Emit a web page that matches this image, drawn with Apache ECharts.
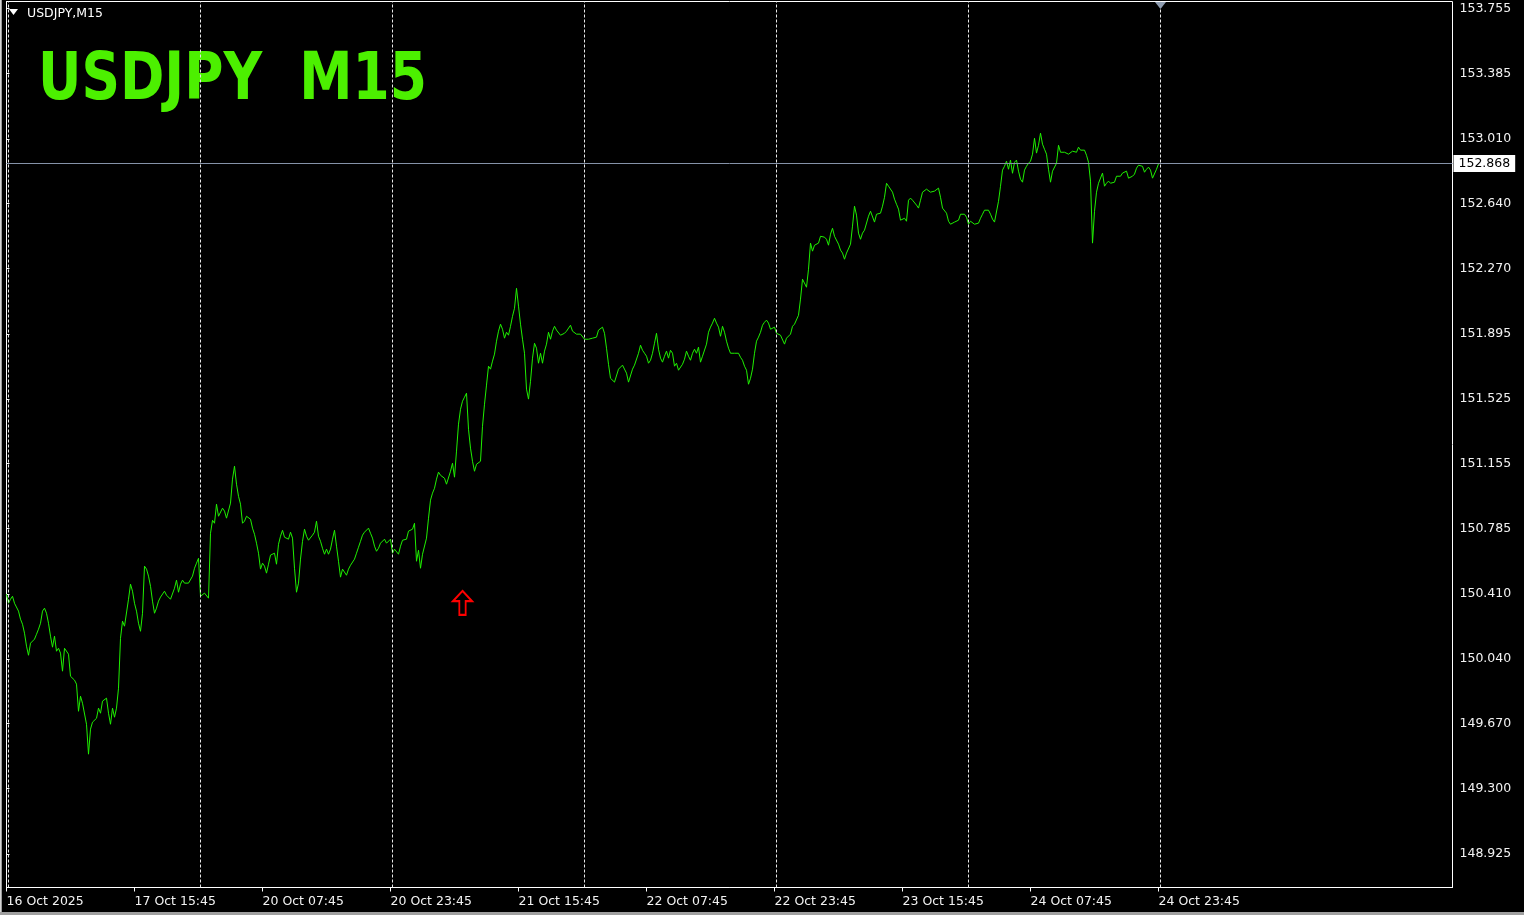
<!DOCTYPE html>
<html>
<head>
<meta charset="utf-8">
<script src="https://cdn.jsdelivr.net/npm/echarts@6/dist/echarts.min.js"></script>
<style>
html,body{margin:0;padding:0;background:#000;overflow:hidden;}
#chart{position:absolute;left:0;top:0;width:1524px;height:915px;}
.frameL1{position:absolute;left:0;top:0;width:1px;height:915px;background:#d4d4d4;z-index:5;}
.frameL2{position:absolute;left:1px;top:0;width:1px;height:915px;background:#9a9a9a;z-index:5;}
.frameB{position:absolute;left:0;top:912px;width:1524px;height:3px;background:#a0a0a0;z-index:5;}
</style>
</head>
<body>
<div id="chart"></div>
<div class="frameL1"></div><div class="frameL2"></div><div class="frameB"></div>
<script>
// ---- data (USDJPY M15 closes, one value per bar) ----
const symbolName = 'USDJPY';
const timeframe = 'M15';

const oct16_17 = [150.410,150.358,150.381,150.398,150.358,150.358,150.313,150.267,150.238,150.187,
150.113,150.061,150.130,150.124,150.153,150.181,150.210,150.244,150.313,150.330,
150.301,150.244,150.170,150.107,150.170,150.084,150.101,150.073,149.970,150.101,
150.101,150.067,149.941,149.930,149.919,149.896,149.741,149.827,149.787,149.787,
149.667,149.496,149.639,149.679,149.690,149.701,149.759,149.730,149.799,149.810,
149.816,149.730,149.667,149.759,149.707,149.759,149.873,150.158,150.256,150.227,
150.227,150.381,150.467,150.427,150.358,150.313,150.244,150.198,150.301,150.570,
150.553,150.513,150.455,150.370,150.301,150.330,150.370,150.393,150.404,150.427,
150.404,150.404,150.381,150.370,150.444,150.490,150.421,150.467,150.490,150.473,
150.473,150.473,150.478,150.513,150.558,150.587,150.615];

const oct20 = [150.398,150.398,150.416,150.427,150.387,150.758,150.832,150.815,150.924,150.855,
150.844,150.901,150.884,150.844,150.855,150.930,151.067,151.141,151.038,150.969,
150.924,150.815,150.827,150.855,150.861,150.838,150.787,150.752,150.701,150.644,
150.553,150.587,150.570,150.530,150.581,150.633,150.644,150.644,150.581,150.695,
150.741,150.775,150.735,150.730,150.724,150.764,150.730,150.558,150.421,150.473,
150.610,150.712,150.781,150.741,150.718,150.707,150.747,150.764,150.827,150.741,
150.712,150.672,150.638,150.667,150.638,150.667,150.724,150.775,150.684,150.598,
150.507,150.553,150.564,150.518,150.553,150.575,150.564,150.610,150.644,150.678,
150.712,150.747,150.764,150.775,150.787,150.758,150.730,150.684,150.655,150.672,
150.701,150.695,150.724,150.701,150.712,150.724];

const oct21 = [150.644,150.667,150.672,150.638,150.684,150.718,150.724,150.724,150.770,150.764,
150.781,150.815,150.598,150.661,150.558,150.638,150.644,150.730,150.844,150.947,
150.987,151.015,151.067,151.107,151.089,151.095,151.072,151.038,151.044,151.112,
151.158,151.078,151.227,151.381,151.466,151.512,151.535,151.558,151.352,151.244,
151.169,151.112,151.152,151.152,151.169,151.369,151.495,151.604,151.712,151.695,
151.741,151.781,151.855,151.912,151.952,151.923,151.872,151.906,151.889,151.940,
151.997,152.043,152.157,152.055,151.952,151.866,151.786,151.581,151.524,151.626,
151.758,151.843,151.815,151.729,151.786,151.729,151.798,151.838,151.906,151.866,
151.912,151.940,151.918,151.912,151.889,151.900,151.900,151.912,151.918,151.946,
151.912,151.906,151.895,151.889,151.895,151.906];

const oct22 = [151.866,151.866,151.866,151.866,151.872,151.861,151.878,151.918,151.929,151.935,
151.900,151.815,151.723,151.643,151.649,151.621,151.621,151.695,151.701,151.718,
151.723,151.672,151.621,151.632,151.695,151.718,151.712,151.786,151.832,151.803,
151.786,151.769,151.729,151.746,151.786,151.843,151.900,151.809,151.758,151.735,
151.769,151.798,151.758,151.803,151.786,151.712,151.729,151.689,151.695,151.723,
151.752,151.798,151.769,151.746,151.786,151.809,151.786,151.821,151.735,151.769,
151.775,151.838,151.906,151.935,151.958,151.986,151.958,151.935,151.883,151.940,
151.906,151.855,151.815,151.786,151.786,151.786,151.781,151.786,151.763,151.746,
151.712,151.689,151.609,151.643,151.695,151.786,151.855,151.878,151.906,151.946,
151.963,151.975,151.958,151.923,151.929,151.935];

const oct23 = [151.900,151.895,151.889,151.878,151.838,151.872,151.883,151.895,151.940,151.952,
151.952,152.003,152.095,152.209,152.215,152.163,152.266,152.415,152.369,152.403,
152.392,152.415,152.454,152.460,152.449,152.437,152.403,152.466,152.500,152.454,
152.449,152.409,152.375,152.358,152.323,152.358,152.363,152.409,152.512,152.626,
152.575,152.472,152.437,152.472,152.489,152.494,152.569,152.597,152.597,152.535,
152.580,152.575,152.586,152.626,152.677,152.757,152.740,152.746,152.706,152.666,
152.637,152.609,152.546,152.535,152.557,152.540,152.660,152.672,152.660,152.666,
152.632,152.615,152.660,152.706,152.706,152.723,152.734,152.706,152.706,152.712,
152.723,152.729,152.677,152.615,152.615,152.586,152.540,152.523,152.517,152.535,
152.540,152.546,152.580,152.575,152.580,152.563];

const oct24 = [152.523,152.540,152.535,152.523,152.517,152.529,152.557,152.580,152.603,152.609,
152.603,152.580,152.552,152.535,152.529,152.654,152.740,152.832,152.854,152.883,
152.837,152.889,152.814,152.877,152.889,152.826,152.780,152.763,152.832,152.854,
152.871,152.883,152.923,153.014,152.929,152.974,153.043,152.980,152.951,152.923,
152.837,152.763,152.826,152.826,152.871,152.974,152.934,152.934,152.934,152.940,
152.923,152.934,152.940,152.940,152.934,152.963,152.946,152.951,152.946,152.917,
152.877,152.769,152.415,152.597,152.706,152.757,152.752,152.815,152.740,152.757,
152.769,152.757,152.752,152.763,152.797,152.803,152.797,152.815,152.826,152.826,
152.786,152.786,152.797,152.809,152.843,152.860,152.866,152.854,152.820,152.837,
152.849,152.832,152.786,152.775,152.837,152.868];

// time-axis labels (bar index -> label)
const timeTickIdx = [0, 64, 128, 192, 256, 320, 384, 448, 512, 576];
const timeTickLabels = ['16 Oct 2025','17 Oct 15:45','20 Oct 07:45','20 Oct 23:45','21 Oct 15:45',
  '22 Oct 07:45','22 Oct 23:45','23 Oct 15:45','24 Oct 07:45','24 Oct 23:45'];
// day separators (bar index of each new day)
const daySeparatorIdx = [1, 97, 193, 289, 385, 481, 577];
// price scale labels
const priceTicks = [153.755,153.385,153.010,152.640,152.270,151.895,151.525,151.155,150.785,150.410,150.040,149.670,149.300,148.925];
const lastPrice = 152.868;
// signal arrow (bar index, price)
const arrowIdx = 228;
const arrowPrice = 150.36;
// visible window
const yMin = 148.7345, yMax = 153.7950;
const xMax = 723;

// ---- build ----
const prices = [].concat(oct16_17, oct20, oct21, oct22, oct23, oct24);
const seriesData = prices.map((p, i) => [i, p]);

const FONT = '"DejaVu Sans", "Liberation Sans", sans-serif';
const titleText = symbolName + '  ' + timeframe;
const titleFont = 'bold 66px "DejaVu Sans"';
const mctx = document.createElement('canvas').getContext('2d');
mctx.font = titleFont;
const titleScale = 389 / mctx.measureText(titleText).width;

const chart = echarts.init(document.getElementById('chart'), null, {renderer: 'canvas'});
chart.setOption({
  backgroundColor: '#000',
  animation: false,
  grid: {
    left: 6.5, top: 1.5, right: 71.5, bottom: 27.5,
    show: true, borderColor: '#ffffff', borderWidth: 1, backgroundColor: 'transparent',
    containLabel: false, outerBoundsMode: 'none'
  },
  xAxis: {
    type: 'value', min: 0, max: xMax,
    axisLine: {show: true, lineStyle: {color: '#ffffff', width: 1}},
    axisTick: {show: true, customValues: timeTickIdx, length: 4, lineStyle: {color: '#ffffff'}},
    axisLabel: {
      customValues: timeTickIdx,
      formatter: v => timeTickLabels[timeTickIdx.indexOf(v)] || '',
      align: 'left', margin: 8, color: '#f2f2f2', fontFamily: FONT, fontSize: 12.5
    },
    splitLine: {show: false}
  },
  yAxis: {
    type: 'value', position: 'right', min: yMin, max: yMax,
    axisLine: {show: true, lineStyle: {color: '#ffffff', width: 1}},
    axisTick: {show: true, customValues: priceTicks, length: 3, lineStyle: {color: '#ffffff'}},
    axisLabel: {
      customValues: priceTicks,
      formatter: v => v.toFixed(3),
      margin: 7, color: '#f2f2f2', fontFamily: FONT, fontSize: 12.5,
      padding: [2, 0, 0, 0]
    },
    splitLine: {show: false}
  },
  series: [{
    type: 'line',
    data: seriesData,
    showSymbol: false,
    symbol: 'none',
    clip: false,
    emphasis: {disabled: true},
    lineStyle: {color: '#1ff000', width: 1},
    z: 3,
    markLine: {
      silent: true,
      symbol: 'none',
      animation: false,
      data: daySeparatorIdx.map(i => ({
        xAxis: i,
        lineStyle: {type: [3, 2], color: '#e8e8e8', width: 1},
        label: {show: false}
      })).concat([{
        yAxis: lastPrice,
        lineStyle: {type: 'solid', color: '#8592a8', width: 1},
        label: {
          show: true, position: 'end', distance: 1,
          formatter: lastPrice.toFixed(3),
          backgroundColor: '#ffffff', color: '#000000',
          padding: [2, 5, 0, 5], lineHeight: 15,
          fontFamily: FONT, fontSize: 12.5
        }
      }])
    },
    markPoint: {
      silent: true,
      animation: false,
      label: {show: false},
      data: [
        {
          coord: [daySeparatorIdx[daySeparatorIdx.length - 1], yMax],
          symbol: 'triangle', symbolRotate: 180, symbolSize: [11, 7], symbolOffset: [0, 4],
          itemStyle: {color: '#8e9cb0'}
        },
        {
          coord: [arrowIdx, arrowPrice],
          symbol: 'path://M10.5 0 L21 11 L14 11 L14 26 L7 26 L7 11 L0 11 Z',
          symbolSize: [19, 24],
          itemStyle: {color: 'rgba(0,0,0,0)', borderColor: '#ff0000', borderWidth: 2}
        }
      ]
    }
  }],
  graphic: [
    {
      type: 'polygon', silent: true,
      shape: {points: [[9, 9], [18, 9], [13.5, 15]]},
      style: {fill: '#ffffff'}
    },
    {
      type: 'text', silent: true, x: 27, y: 13.5,
      style: {text: symbolName + ',' + timeframe, font: '12.5px "DejaVu Sans"', fill: '#ffffff', align: 'left', verticalAlign: 'middle'}
    },
    {
      type: 'text', silent: true, x: 38, y: 82, scaleX: titleScale, scaleY: 1,
      style: {text: titleText, font: titleFont, fill: '#4cf000', align: 'left', verticalAlign: 'middle'}
    }
  ]
});
</script>
</body>
</html>
